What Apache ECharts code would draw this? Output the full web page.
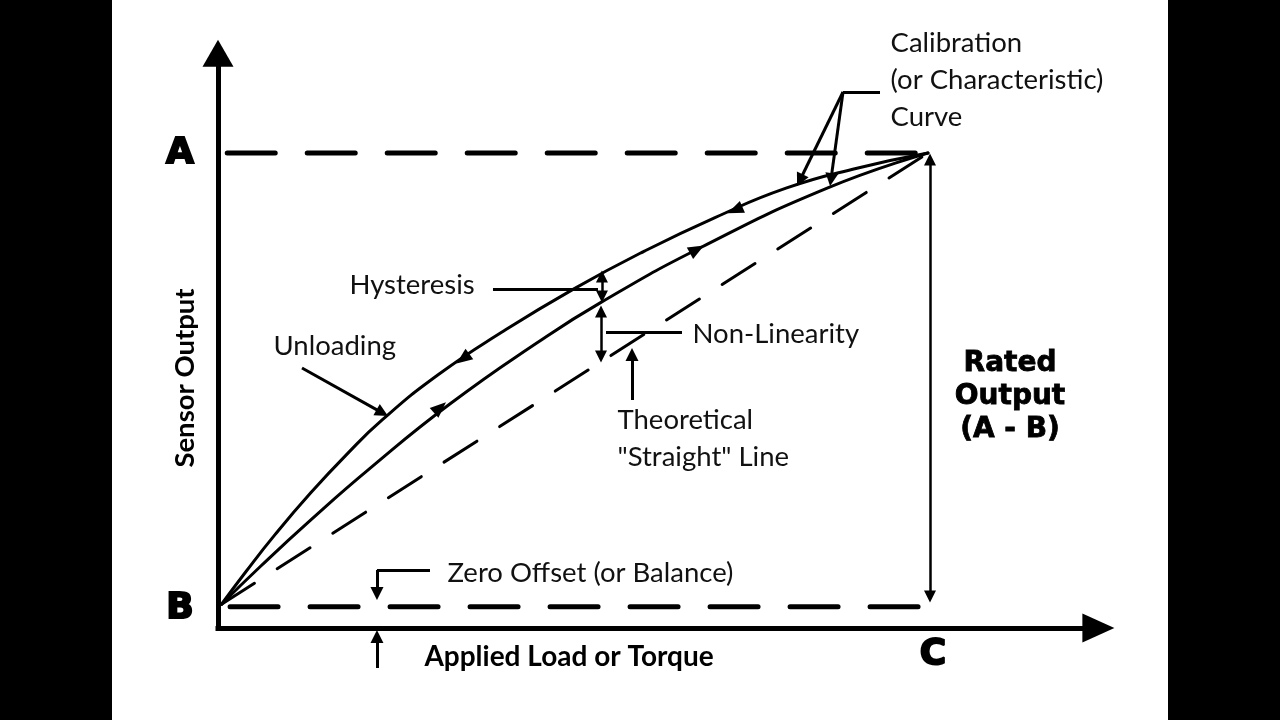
<!DOCTYPE html>
<html><head><meta charset="utf-8">
<script src="https://cdn.jsdelivr.net/npm/echarts@6/dist/echarts.min.js"></script>
<style>
html,body{margin:0;padding:0;background:#000;width:1280px;height:720px;overflow:hidden}
#c{position:absolute;left:112px;top:0;width:1056px;height:720px;background:#fff}
</style></head><body><div id="c"></div>
<script>
// ---- data (x: applied load, 0..124 ; y: sensor output, 0..121; C = 100, A = 100, B = 5) ----
const unloadingCurve = [[100,100],[90,96.8],[80,92.6],[70,86.4],[60,79.3],[50,71.3],[40,62.3],[31,53.3],[23.2,43.9],[18,36.35],[13,28.35],[8,19.6],[4,12.0],[0.5,5]];
const loadingCurve = [[0.5,5],[6,13.0],[13,22.66],[21.4,33.6],[32.7,47.2],[45,60.1],[54,68.6],[68,80.1],[85.8,92.6],[100,100]];
const straightLine = [[0.5,5],[100,100]];
const levelA = [[1.3,100],[100,100]];
const levelB = [[1.7,4.5],[100,4.5]];
const ratedOutput = [[100.28,6.63],[100.28,98.63]];
const hysteresisSpan = [[54.08,74.0],[54.08,69.79]];
const nonLinearitySpan = [[53.94,66.63],[53.94,57.16]];
const pointerArrows = [
  [[88.03,112.84],[81.96,94.27]],
  [[88.03,112.84],[86.33,94.4]],
  [[58.31,48.0],[58.31,57.58]],
  [[11.83,54.74],[23.14,45.3]],
  [[22.39,12.21],[22.39,7.26]],
  [[22.39,-8.42],[22.39,-1.79]]
];
const leaderLines = [
  [[88.03,112.84],[93.24,112.84]],
  [[38.73,71.37],[53.52,71.37]],
  [[54.65,62.32],[65.35,62.32]],
  [[29.86,12.21],[22.39,12.21]]
];
// direction marks on curves: [x, y, rotation]
const directionMarks = [[31.27,46.4,-48],[67.46,79.7,-61],[34.5,56.7,126.5],[72.82,88.0,113]];
const textLabels = [
  {text:'A', at:[-5.35,99.8], kind:'letter'},
  {text:'B', at:[-5.35,4.0], kind:'letter'},
  {text:'C', at:[100.7,-5.7], kind:'letter'},
  {text:'Sensor Output', at:[-4.65,52.63], kind:'axisV'},
  {text:'Applied Load or Torque', at:[49.44,-6.1], kind:'axisH'},
  {text:'Rated\nOutput\n(A - B)', at:[111.55,48.6], kind:'rated'},
  {text:'Calibration\n(or Characteristic)\nCurve', at:[94.65,115.37], kind:'note'},
  {text:'Hysteresis', at:[18.45,72.2], kind:'note'},
  {text:'Unloading', at:[7.75,59.37], kind:'note'},
  {text:'Non-Linearity', at:[66.76,61.9], kind:'note'},
  {text:'Theoretical\n"Straight" Line', at:[56.2,39.79], kind:'note'},
  {text:'Zero Offset (or Balance)', at:[32.25,11.58], kind:'note'}
];

// ---- styles ----
const K = '#000';
const labelStyles = {
  letter: {position:'inside', fontFamily:'DejaVu Sans', fontWeight:'bold', fontSize:36, color:'#000', textBorderColor:'#000', textBorderWidth:2},
  axisV: {position:'inside', rotate:90, fontFamily:'Lato', fontWeight:'bold', fontSize:27.5, color:'#000'},
  axisH: {position:'inside', fontFamily:'Lato', fontWeight:'bold', fontSize:28, color:'#000'},
  rated: {position:'inside', align:'center', fontFamily:'DejaVu Sans', fontWeight:'bold', fontSize:28, lineHeight:33, color:'#000', textBorderColor:'#000', textBorderWidth:0.8},
  note: {position:'right', distance:0, align:'left', fontFamily:'Lato', fontSize:27.5, lineHeight:37, color:'#111'}
};

const chart = echarts.init(document.getElementById('c'));
const curveLine = {color:K, width:3, cap:'round', join:'round'};
chart.setOption({
  animation:false,
  backgroundColor:'#fff',
  grid:{left:106, top:53.25, width:880.4, height:574.75, containLabel:false},
  xAxis:{type:'value', min:0, max:124, axisTick:{show:false}, axisLabel:{show:false}, splitLine:{show:false},
    axisLine:{show:true, onZero:false, symbol:['none','triangle'], symbolSize:[29,32], lineStyle:{color:K, width:5, cap:'square'}}},
  yAxis:{type:'value', min:0, max:121, axisTick:{show:false}, axisLabel:{show:false}, splitLine:{show:false},
    axisLine:{show:true, onZero:false, symbol:['none','triangle'], symbolSize:[31,27], lineStyle:{color:K, width:5, cap:'square'}}},
  series:[
    {type:'line', data:straightLine, showSymbol:false, silent:true, lineStyle:{color:K, width:3, type:[39,27], cap:'round'}},
    {type:'line', data:levelA, showSymbol:false, silent:true, lineStyle:{color:K, width:5, type:[48,32], cap:'round'}},
    {type:'line', data:levelB, showSymbol:false, silent:true, lineStyle:{color:K, width:5, type:[48,32], cap:'round'}},
    {type:'line', data:unloadingCurve, smooth:0.5, showSymbol:false, silent:true, lineStyle:curveLine},
    {type:'line', data:loadingCurve, smooth:0.5, showSymbol:false, silent:true, lineStyle:curveLine},
    {type:'lines', coordinateSystem:'cartesian2d', clip:false, silent:true, symbol:['triangle','triangle'], symbolSize:12,
      lineStyle:{color:K, width:2.5, opacity:1, curveness:0},
      data:[ratedOutput, hysteresisSpan, nonLinearitySpan].map(c=>({coords:c}))},
    {type:'lines', coordinateSystem:'cartesian2d', clip:false, silent:true, symbol:['none','triangle'], symbolSize:13,
      lineStyle:{color:K, width:3, opacity:1, curveness:0},
      data:pointerArrows.map(c=>({coords:c}))},
    {type:'lines', coordinateSystem:'cartesian2d', clip:false, silent:true, symbol:['none','none'],
      lineStyle:{color:K, width:3, opacity:1, curveness:0},
      data:leaderLines.map(c=>({coords:c}))},
    {type:'scatter', clip:false, silent:true, symbol:'triangle', symbolSize:[13,16], itemStyle:{color:K, opacity:1},
      data:directionMarks.map(d=>({value:[d[0],d[1]], symbolRotate:d[2]}))},
    {type:'scatter', clip:false, silent:true, symbolSize:1, itemStyle:{color:'rgba(0,0,0,0)', opacity:1},
      data:textLabels.map(t=>({value:t.at, name:t.text, label:Object.assign({show:true, formatter:'{b}'}, labelStyles[t.kind])}))}
  ]
});
</script></body></html>
